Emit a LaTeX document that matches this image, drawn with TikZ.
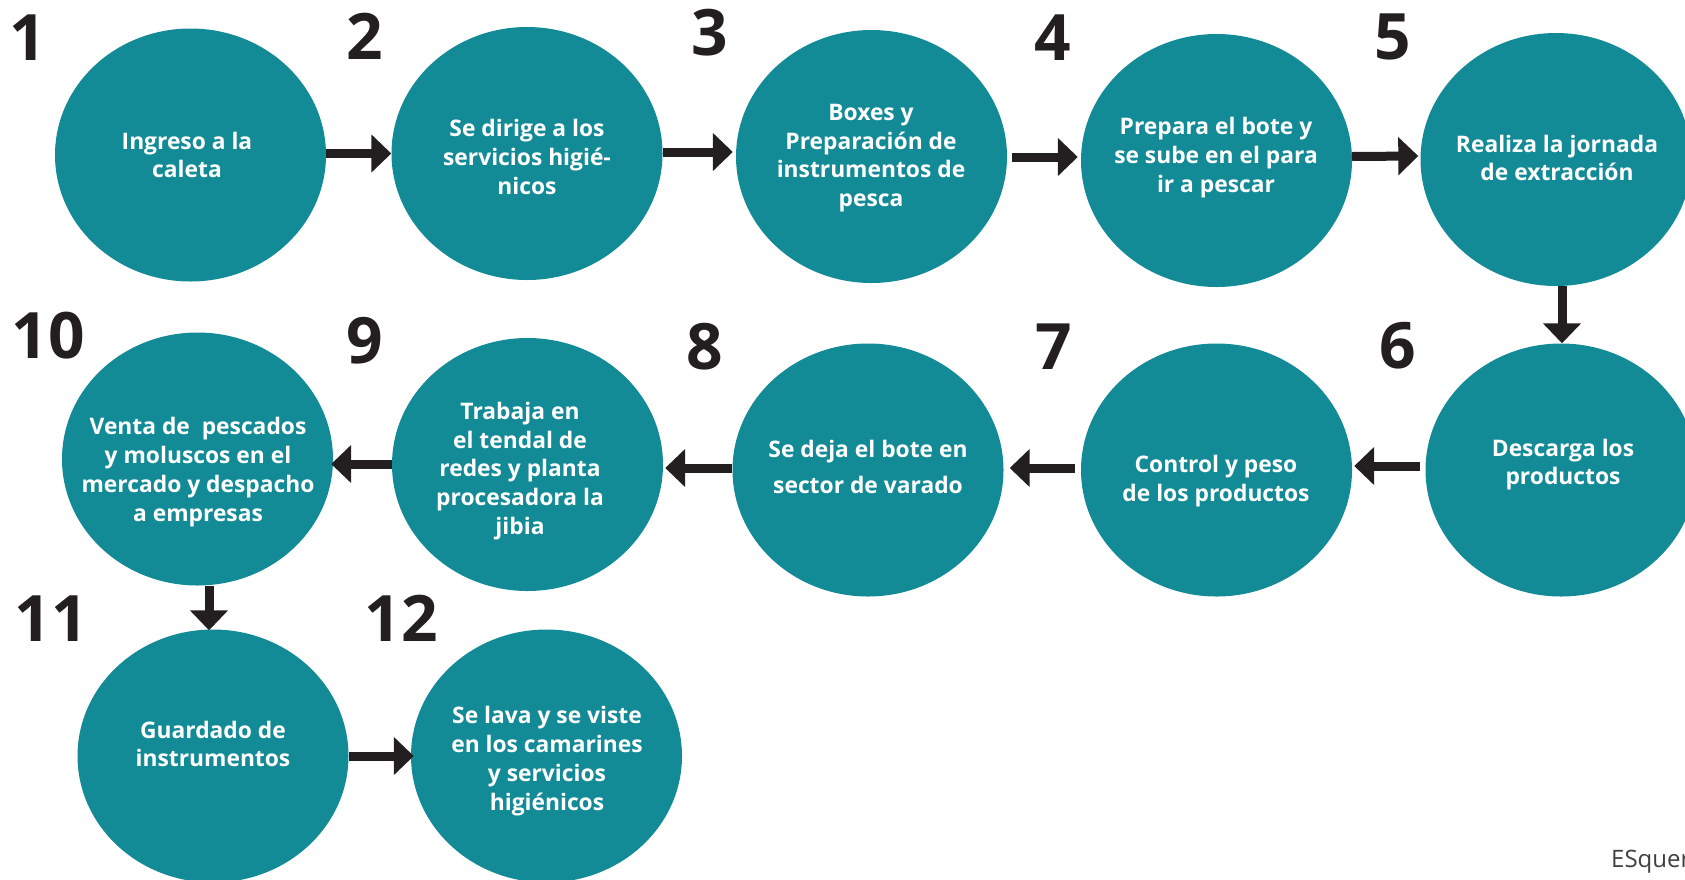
\documentclass[tikz,border=0pt]{standalone}
\usepackage{fontspec}
\setmainfont{Open Sans}
\usetikzlibrary{shapes.geometric,arrows.meta,calc}
\definecolor{teal1}{RGB}{19,139,151}
\definecolor{ink}{RGB}{35,31,32}
\definecolor{greytxt}{RGB}{64,64,64}
\tikzset{
  stepc/.style={ellipse,fill=teal1,draw=none,inner sep=0pt,minimum width=271pt,minimum height=253pt},
  steptxt/.style={text=white,font=\bfseries\fontsize{22.8}{28.8}\selectfont,align=center,inner sep=0pt},
  stepnum/.style={text=ink,font=\bfseries\fontsize{64}{64}\selectfont,anchor=base,inner sep=0pt},
  arr/.style={draw=ink,line width=9pt,-{Triangle[length=20pt,width=37pt]}}
}
\begin{document}
\begin{tikzpicture}[x=1pt,y=-1pt]
\useasboundingbox (0,0) rectangle (1685,879);
\clip (0,0) rectangle (1685,879);
% circles
\node[stepc] (c1) at (190.5,155) {};
\node[stepc] (c2) at (527,153.5) {};
\node[stepc] (c3) at (871.5,156.5) {};
\node[stepc] (c4) at (1216.5,160.5) {};
\node[stepc] (c5) at (1556,159.5) {};
\node[stepc] (c6) at (1561,470) {};
\node[stepc] (c7) at (1216.5,470) {};
\node[stepc] (c8) at (868,470) {};
\node[stepc] (c9) at (527.5,464.5) {};
\node[stepc] (c10) at (197.5,459) {};
\node[stepc] (c11) at (213,756) {};
\node[stepc] (c12) at (546.5,756) {};
% texts
\node[steptxt] (t1) at (187,155) {Ingreso a la\\caleta};
\node[steptxt] (t2) at (527,157) {Se dirige a los\\servicios higié-\\nicos};
\node[steptxt] (t3) at (871,158) {Boxes y\\Preparación de\\instrumentos de\\pesca};
\node[steptxt] (t4) at (1216,157.5) {Prepara el bote y\\se sube en el para\\ir a pescar};
\node[steptxt] (t5) at (1557,158) {Realiza la jornada\\de extracción};
\node[steptxt] (t6) at (1563,464.5) {Descarga los\\productos};
\node[steptxt] (t7) at (1216,481) {Control y peso\\de los productos};
\node[steptxt,font=\bfseries\fontsize{22.8}{35.5}\selectfont] (t8) at (868,467) {Se deja el bote en\\sector de varado};
\node[steptxt] (t9) at (520,471) {Trabaja en\\el tendal de\\redes y planta\\procesadora la\\jibia};
\node[steptxt] (t10) at (198,472) {Venta de\ \ pescados\\y moluscos en el\\mercado y despacho\\a empresas};
\node[steptxt] (t11) at (213,744) {Guardado de\\instrumentos};
\node[steptxt] (t12) at (547,761) {Se lava y se viste\\en los camarines\\y servicios\\higiénicos};
% numbers
\node[stepnum] (n1) at (28,60) {1};
\node[stepnum] (n2) at (364.5,59) {2};
\node[stepnum] (n3) at (710,55) {3};
\node[stepnum] (n4) at (1053,60) {4};
\node[stepnum] (n5) at (1393,59) {5};
\node[stepnum] (n6) at (1397.5,368) {6};
\node[stepnum] (n7) at (1053.5,369) {7};
\node[stepnum] (n8) at (705,369) {8};
\node[stepnum] (n9) at (365,363) {9};
\node[stepnum] (n10) at (48,358) {10};
\node[stepnum] (n11) at (51,641) {11};
\node[stepnum] (n12) at (401.5,641) {12};
% arrows
\draw[arr] ($(c1.east)+(0,-1.5)$) -- ($(c2.west)+(0,0)$);
\draw[arr] ($(c2.east)+(0,-1.5)$) -- ($(c3.west)+(-3,-4.5)$);
\draw[arr] ($(c3.east)+(5,0.5)$) -- ($(c4.west)+(-3,-3.5)$);
\draw[arr] ($(c4.east)+(0,-4)$) -- ($(c5.west)+(-2,-3.5)$);
\draw[arr] ($(c5.south)+(6,0)$) -- ($(c6.north)+(1,0)$);
\draw[arr] ($(c6.west)+(-5,-4)$) -- ($(c7.east)+(2,-4)$);
\draw[arr] ($(c7.west)+(-6,-2)$) -- ($(c8.east)+(6,-2)$);
\draw[arr] ($(c8.west)+(0,-2)$) -- ($(c9.east)+(2,3.5)$);
\draw[arr] ($(c9.west)+(0,-0.5)$) -- ($(c10.east)+(-2,5)$);
\draw[arr] ($(c10.south)+(11.5,0)$) -- ($(c11.north)+(-4,1)$);
\draw[arr] (c11.east) -- ($(c12.west)+(3,0)$);
% footer
\node[anchor=base west,text=greytxt,font=\fontsize{24}{24}\selectfont,inner sep=0pt] (foot) at (1611,867) {ESquer};
\end{tikzpicture}
\end{document}
